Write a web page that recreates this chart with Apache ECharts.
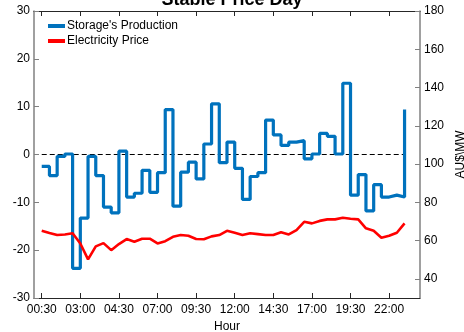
<!DOCTYPE html>
<html><head><meta charset="utf-8">
<script src="https://cdn.jsdelivr.net/npm/echarts@6/dist/echarts.min.js"></script>
<style>html,body{margin:0;padding:0;background:#fff}#c{width:464px;height:332px}</style>
</head><body><div id="c"></div>
<script>
// Half-hour slots 00:30 ... 24:00 (index 0..47)
const slots = ['00:30','01:00','01:30','02:00','02:30','03:00','03:30','04:00','04:30','05:00','05:30','06:00',
  '06:30','07:00','07:30','08:00','08:30','09:00','09:30','10:00','10:30','11:00','11:30','12:00',
  '12:30','13:00','13:30','14:00','14:30','15:00','15:30','16:00','16:30','17:00','17:30','18:00',
  '18:30','19:00','19:30','20:00','20:30','21:00','21:30','22:00','22:30','23:00','23:30','24:00'];
const tickIndex = [0,5,10,15,20,25,30,35,40,45];
const tickLabels = ['00:30','03:00','04:30','07:00','09:30','12:00','14:30','17:00','19:30','22:00'];
const storageMW = [-2.5,-4.4,-0.4,0.1,-23.8,-13.3,-0.4,-4.4,-11.0,-12.2,0.7,-8.9,
  -8.1,-3.3,-7.9,-3.8,9.4,-10.8,-3.7,-1.6,-5.1,2.2,10.6,-1.7,
  2.6,-2.9,-9.4,-4.6,-3.8,7.2,4.1,1.9,2.6,2.9,-0.9,0.1,
  4.4,3.8,0.1,14.9,-8.5,-4.2,-11.8,-6.3,-8.9,-8.5,-8.9,9.4];
const priceAUD = [65.2,64.0,62.9,63.2,63.8,58.5,50.2,57.0,58.7,55.0,58.2,60.8,
  59.4,61.0,61.0,58.5,59.7,62.0,62.9,62.5,60.8,60.7,62.2,62.9,
  65.1,64.1,62.9,63.8,63.4,62.9,62.9,64.4,63.2,65.5,69.8,69.0,
  70.3,71.1,71.1,71.9,71.4,71.1,66.4,65.1,61.5,62.5,64.1,69.0];
const leftTicks = [-30,-20,-10,0,10,20,30];
const rightTicks = [40,60,80,100,120,140,160,180];

const FONT = 'Liberation Sans, Arial, Helvetica, sans-serif';
const chart = echarts.init(document.getElementById('c'), null, {renderer:'canvas'});
const idx = slots.map((_, i) => i);
chart.setOption({
  animation: false,
  textStyle: {fontFamily: FONT},
  title: {text: 'Stable Price Day', left: 'center', top: -14,
    textStyle: {fontSize: 18, fontWeight: 'bold', color: '#000', fontFamily: FONT}},
  legend: {orient: 'vertical', left: 43, top: 14, itemWidth: 17, itemHeight: 4, itemGap: 1,
    icon: 'rect', data: ["Storage's Production", 'Electricity Price'],
    textStyle: {fontSize: 12, color: '#000', fontFamily: FONT, lineHeight: 14, padding: [0,0,0,-3]}},
  grid: {left: 34, right: 44, top: 11, bottom: 34, containLabel: false, outerBoundsMode: 'none'},
  xAxis: [{
    type: 'value', min: -1, max: 49, position: 'bottom',
    name: 'Hour', nameLocation: 'middle', nameGap: 14,
    nameTextStyle: {fontSize: 12, color: '#000', fontFamily: FONT},
    axisLine: {show: true, onZero: false, lineStyle: {color: '#262626', width: 1}},
    axisTick: {show: true, inside: true, length: 5, customValues: tickIndex, lineStyle: {color: '#262626'}},
    axisLabel: {show: true, customValues: tickIndex, margin: 6, fontSize: 12, color: '#000', fontFamily: FONT,
      formatter: v => tickLabels[tickIndex.indexOf(Math.round(v))] || ''},
    splitLine: {show: false}
  }, {
    type: 'value', min: -1, max: 49, position: 'top',
    axisLine: {show: true, onZero: false, lineStyle: {color: '#262626', width: 1}},
    axisTick: {show: true, inside: true, length: 5, customValues: tickIndex, lineStyle: {color: '#262626'}},
    axisLabel: {show: false}, splitLine: {show: false}
  }],
  yAxis: [{
    type: 'value', min: -30, max: 30, interval: 10, position: 'left',
    name: 'MW', nameLocation: 'middle', nameGap: 22, nameRotate: 90,
    nameTextStyle: {fontSize: 12, color: '#000', fontFamily: FONT},
    axisLine: {show: true, onZero: false, lineStyle: {color: '#808080', width: 1.5}},
    axisTick: {show: true, inside: true, length: 5, customValues: leftTicks, lineStyle: {color: '#808080'}},
    axisLabel: {customValues: leftTicks, margin: 4, fontSize: 12, color: '#000', fontFamily: FONT},
    splitLine: {show: false}
  }, {
    type: 'value', min: 30, max: 180, position: 'right',
    name: 'AU$\\MW', nameLocation: 'middle', nameGap: 35, nameRotate: 90,
    nameTextStyle: {fontSize: 12, color: '#000', fontFamily: FONT},
    axisLine: {show: true, onZero: false, lineStyle: {color: '#808080', width: 1.5}},
    axisTick: {show: true, inside: true, length: 5, customValues: rightTicks, lineStyle: {color: '#808080'}},
    axisLabel: {customValues: rightTicks, margin: 4, fontSize: 12, color: '#000', fontFamily: FONT},
    splitLine: {show: false}
  }],
  series: [{
    name: 'zero', type: 'line', xAxisIndex: 0, yAxisIndex: 0, symbol: 'none', silent: true,
    data: [[idx[0], 0], [idx[idx.length - 1], 0]],
    lineStyle: {color: '#000', width: 1, type: [5, 3]}, z: 1
  }, {
    name: "Storage's Production", type: 'line', xAxisIndex: 0, yAxisIndex: 0, step: 'end',
    symbol: 'none', data: idx.map(i => [i, storageMW[i]]),
    itemStyle: {color: '#0072BD'}, lineStyle: {color: '#0072BD', width: 3.2}, z: 2
  }, {
    name: 'Electricity Price', type: 'line', xAxisIndex: 0, yAxisIndex: 1,
    symbol: 'none', data: idx.map(i => [i, priceAUD[i]]),
    itemStyle: {color: '#FF0000'}, lineStyle: {color: '#FF0000', width: 2.6}, z: 3
  }]
});
</script></body></html>
